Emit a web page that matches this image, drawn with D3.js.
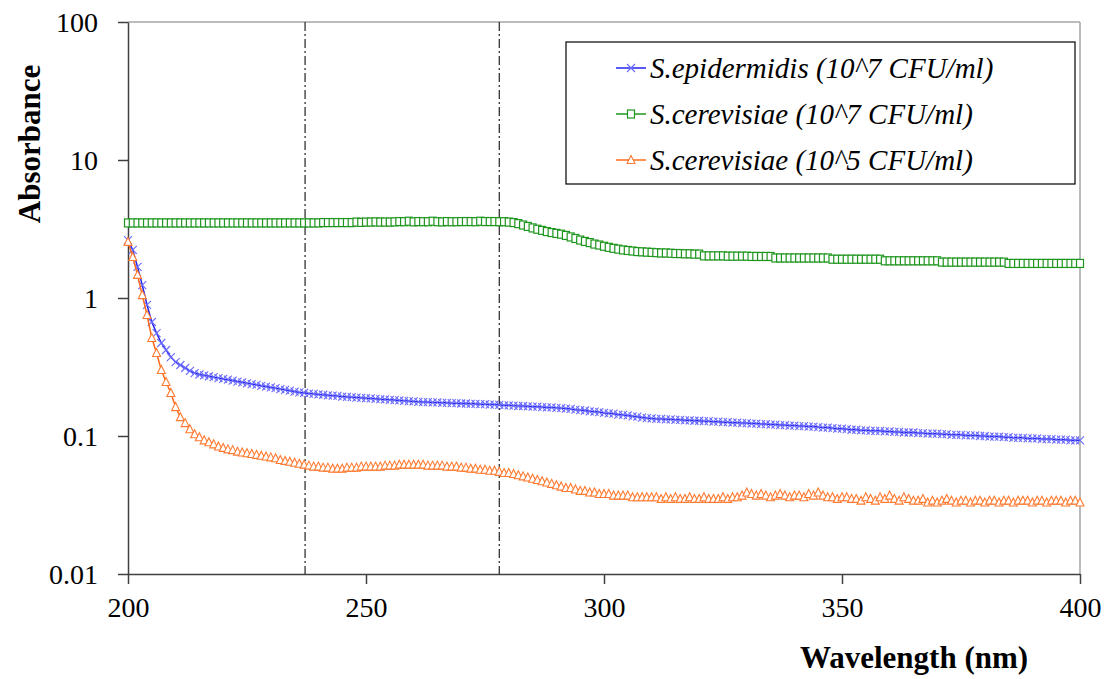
<!DOCTYPE html>
<html>
<head>
<meta charset="utf-8">
<script src="https://cdn.jsdelivr.net/npm/d3@7"></script>
<style>
  body { margin: 0; background: #fff; }
  svg text { font-family: "Liberation Serif", Tinos, "Times New Roman", Times, "DejaVu Serif", serif !important; }
</style>
</head>
<body>
<div id="chart"></div>
<script>
// wavelength runs 200..400 nm in 1 nm steps
const wavelengths = d3.range(200, 401)

const epidermidis7 = [
  2.63, 2.23, 1.68, 1.24, 0.89, 0.67, 0.557, 0.472, 0.42, 0.373, 0.343, 0.327, 0.311, 0.296, 0.286, 0.279,
  0.275, 0.271, 0.267, 0.263, 0.259, 0.256, 0.252, 0.248, 0.245, 0.241, 0.238, 0.235, 0.231, 0.228, 0.225, 0.222, 0.219, 0.216, 0.213, 0.210, 0.207, 0.205,
  0.203, 0.202, 0.200, 0.199, 0.197, 0.196, 0.195, 0.193, 0.192, 0.191, 0.190, 0.189, 0.188,
  0.187, 0.186, 0.185, 0.184, 0.183, 0.182, 0.181, 0.180, 0.179, 0.178, 0.177, 0.176,
  0.176, 0.175, 0.175, 0.174, 0.174, 0.173, 0.173, 0.172, 0.172, 0.171, 0.171, 0.170, 0.170, 0.169, 0.169, 0.168,
  0.167, 0.167, 0.166, 0.165, 0.165, 0.164, 0.163, 0.163, 0.162, 0.161, 0.161, 0.160,
  0.159, 0.158, 0.157, 0.155, 0.154, 0.153, 0.151, 0.150, 0.149, 0.147,
  0.146, 0.145, 0.143, 0.142, 0.141, 0.139, 0.138, 0.136, 0.135, 0.134,
  0.133, 0.133, 0.132, 0.132, 0.131, 0.131, 0.130, 0.130, 0.129, 0.129, 0.128, 0.128, 0.127, 0.127, 0.126, 0.126, 0.125, 0.125, 0.124, 0.124,
  0.123, 0.123, 0.122, 0.122, 0.121, 0.121, 0.120, 0.120, 0.119, 0.119, 0.118, 0.118, 0.117, 0.117, 0.116, 0.115, 0.115, 0.114, 0.113, 0.113, 0.112, 0.111, 0.111, 0.110,
  0.110, 0.109, 0.109, 0.109, 0.108, 0.108, 0.107, 0.107, 0.106, 0.106, 0.106, 0.105, 0.105, 0.104, 0.104, 0.104, 0.103, 0.103, 0.102, 0.102, 0.102,
  0.101, 0.101, 0.101, 0.100, 0.100, 0.099, 0.099, 0.099, 0.098, 0.098, 0.097, 0.097, 0.097, 0.096, 0.096, 0.096, 0.095, 0.095, 0.095, 0.094, 0.094, 0.094, 0.093, 0.093, 0.093
]

const cerevisiae7 = [
  3.50, 3.50, 3.50, 3.50, 3.50, 3.50, 3.50, 3.50, 3.50, 3.50, 3.50, 3.50, 3.50, 3.50, 3.50, 3.50, 3.50, 3.50, 3.50, 3.50,
  3.50, 3.50, 3.50, 3.50, 3.50, 3.50, 3.50, 3.50, 3.50, 3.50, 3.50, 3.50, 3.50, 3.50, 3.50, 3.50, 3.50, 3.50, 3.50, 3.50, 3.50,
  3.52, 3.52, 3.52, 3.52, 3.52, 3.52, 3.52,
  3.55, 3.53, 3.55, 3.55, 3.56, 3.55, 3.55, 3.55,
  3.56, 3.58, 3.57, 3.60, 3.56, 3.58, 3.57, 3.57, 3.60, 3.57, 3.56, 3.58, 3.57, 3.57, 3.58,
  3.58, 3.58, 3.57, 3.60, 3.58, 3.58, 3.58, 3.57,
  3.57, 3.55, 3.52, 3.46, 3.38, 3.30, 3.22, 3.15, 3.09, 3.03, 2.98, 2.94, 2.90, 2.84, 2.77, 2.70,
  2.63, 2.57, 2.52, 2.46, 2.42, 2.37, 2.33, 2.29, 2.26, 2.23, 2.21, 2.19, 2.17, 2.16, 2.15, 2.14,
  2.13, 2.12, 2.12, 2.11, 2.10, 2.10, 2.09, 2.09, 2.08, 2.08,
  2.02, 2.02, 2.02, 2.02, 2.02, 2.01, 2.01, 2.01, 2.01, 2.01, 2.00, 2.00, 2.00, 2.00, 2.00,
  1.95, 1.95, 1.95, 1.95, 1.95, 1.95, 1.95, 1.95, 1.95, 1.95, 1.95, 1.95,
  1.91, 1.91, 1.91, 1.91, 1.91, 1.91, 1.91, 1.91, 1.91, 1.91, 1.91,
  1.86, 1.86, 1.86, 1.86, 1.86, 1.86, 1.86, 1.86, 1.86, 1.86, 1.86, 1.86,
  1.82, 1.82, 1.82, 1.82, 1.82, 1.82, 1.82, 1.82, 1.82, 1.82, 1.82, 1.82, 1.82, 1.82,
  1.78, 1.78, 1.78, 1.78, 1.78, 1.78, 1.78, 1.78, 1.78, 1.78, 1.78, 1.78, 1.78, 1.78, 1.78, 1.78
]

const cerevisiae5 = [
  2.55, 1.98, 1.47, 1.05, 0.753, 0.513, 0.399, 0.301, 0.246, 0.205, 0.162, 0.137, 0.124, 0.112, 0.103, 0.098,
  0.093, 0.090, 0.087, 0.084, 0.082, 0.080, 0.079, 0.077, 0.076, 0.075, 0.074, 0.073, 0.072, 0.071, 0.070, 0.069, 0.067, 0.066, 0.065, 0.064, 0.063, 0.062,
  0.061, 0.060, 0.060, 0.059, 0.059, 0.058, 0.058, 0.058, 0.059, 0.059, 0.059, 0.060, 0.060, 0.060, 0.060, 0.060, 0.061, 0.061, 0.061, 0.062, 0.062, 0.062, 0.062, 0.062, 0.062,
  0.061, 0.061, 0.061, 0.061, 0.060, 0.060, 0.060, 0.059, 0.059, 0.058, 0.058, 0.057, 0.057, 0.056, 0.056, 0.055,
  0.054, 0.054, 0.053, 0.052, 0.051, 0.050, 0.049, 0.048, 0.047, 0.046, 0.045, 0.044, 0.043, 0.042, 0.042, 0.041, 0.040, 0.040, 0.039, 0.039, 0.038, 0.038, 0.038, 0.037, 0.037,
  0.037, 0.037, 0.036, 0.036, 0.036, 0.036, 0.036, 0.036, 0.035, 0.036, 0.035, 0.036, 0.035, 0.035, 0.036, 0.035, 0.035, 0.036, 0.035, 0.035, 0.035, 0.036, 0.035, 0.036, 0.036, 0.037,
  0.039, 0.038, 0.037, 0.038, 0.037, 0.036, 0.037, 0.038, 0.037, 0.036, 0.037, 0.037, 0.036, 0.038, 0.037, 0.039, 0.037, 0.036, 0.036, 0.035, 0.036,
  0.036, 0.035, 0.035, 0.034, 0.036, 0.035, 0.034, 0.036, 0.035, 0.037, 0.035, 0.034, 0.036, 0.035, 0.034, 0.034, 0.035, 0.033, 0.034, 0.033, 0.034, 0.035, 0.034, 0.033, 0.034,
  0.034, 0.033, 0.034, 0.034, 0.033, 0.034, 0.034, 0.033, 0.034, 0.034, 0.033, 0.034, 0.034, 0.034, 0.033, 0.034, 0.034, 0.033, 0.034, 0.034, 0.034, 0.033, 0.034, 0.034, 0.033
]

const seriesNames = [
  "S.epidermidis (10^7 CFU/ml)",
  "S.cerevisiae (10^7 CFU/ml)",
  "S.cerevisiae (10^5 CFU/ml)"
]
const xTicks = [200, 250, 300, 350, 400]
const yTicks = [0.01, 0.1, 1, 10, 100]
const markerLines = [237.2, 278]

const svgWidth = 1113
const svgHeight = 679
const margin = { top: 22, right: 33, bottom: 105, left: 128 }
const width = svgWidth - margin.left - margin.right
const height = svgHeight - margin.top - margin.bottom

const svg = d3.select("#chart").append("svg")
  .attr("width", svgWidth)
  .attr("height", svgHeight)

const g = svg.append("g").attr("transform", `translate(${margin.left},${margin.top})`)

const x = d3.scaleLinear().domain([200, 400]).range([0, width])
const y = d3.scaleLog().domain([0.01, 100]).range([height, 0])

// plot border (top & right, light grey)
g.append("line").attr("x1", 0).attr("x2", width).attr("y1", 0).attr("y2", 0)
  .attr("stroke", "#a6a6a6").attr("stroke-width", 1.5)
g.append("line").attr("x1", width).attr("x2", width).attr("y1", 0).attr("y2", height)
  .attr("stroke", "#a6a6a6").attr("stroke-width", 1.5)

// axes
const xAxis = g.append("g").attr("transform", `translate(0,${height})`)
  .call(d3.axisBottom(x).tickValues(xTicks).tickSize(10).tickPadding(8).tickSizeOuter(0))
const yAxis = g.append("g")
  .call(d3.axisLeft(y).tickValues(yTicks).tickSize(10).tickPadding(20).tickSizeOuter(0)
    .tickFormat(d => d >= 1 ? d3.format("d")(d) : String(d)))

;[xAxis, yAxis].forEach(a => {
  a.attr("font-family", null)
  a.select(".domain").attr("stroke", "#404040").attr("stroke-width", 1.5)
  a.selectAll(".tick line").attr("stroke", "#404040").attr("stroke-width", 1.5)
  a.selectAll("text").attr("font-size", 28).attr("fill", "#000")
})
xAxis.selectAll("text").attr("dy", "0.9em")
yAxis.selectAll("text").attr("dy", "0.35em")

// dash-dot reference lines
g.selectAll(".refline").data(markerLines).enter().append("line")
  .attr("x1", d => x(d)).attr("x2", d => x(d))
  .attr("y1", 0).attr("y2", height)
  .attr("stroke", "#222").attr("stroke-width", 1.2)
  .attr("stroke-dasharray", "9,3,2,3")

const series = [
  { name: seriesNames[0], values: epidermidis7, color: "#2323f0", mcolor: "#6a6aff", shape: "x" },
  { name: seriesNames[1], values: cerevisiae7, color: "#1e961e", mcolor: "#1e961e", shape: "square" },
  { name: seriesNames[2], values: cerevisiae5, color: "#ff6a1a", mcolor: "#ff7a30", shape: "triangle" }
]

const line = d3.line().x((d, i) => x(wavelengths[i])).y(d => y(d))

function drawMarker(sel, shape, color) {
  if (shape === "x") {
    sel.append("path").attr("d", "M-4,-4L4,4M-4,4L4,-4")
      .attr("stroke", color).attr("stroke-width", 1.1).attr("fill", "none")
  } else if (shape === "square") {
    sel.append("rect").attr("x", -3.5).attr("y", -4).attr("width", 7).attr("height", 8)
      .attr("stroke", color).attr("stroke-width", 1.2).attr("fill", "#fff")
  } else {
    sel.append("path").attr("d", "M0,-4.5L4,3.5L-4,3.5Z")
      .attr("stroke", color).attr("stroke-width", 1.1).attr("fill", "#fff")
  }
}

series.forEach(s => {
  g.append("path").datum(s.values)
    .attr("d", line)
    .attr("fill", "none")
    .attr("stroke", s.color)
    .attr("stroke-width", 1.5)
  g.append("g").selectAll("g").data(s.values).enter().append("g")
    .attr("transform", (d, i) => `translate(${x(wavelengths[i])},${y(d)})`)
    .each(function() { drawMarker(d3.select(this), s.shape, s.mcolor) })
})

// legend
const legend = svg.append("g").attr("transform", "translate(566,42)")
legend.append("rect").attr("width", 509).attr("height", 142)
  .attr("fill", "#fff").attr("stroke", "#000").attr("stroke-width", 1.2)
series.forEach((s, i) => {
  const row = legend.append("g").attr("transform", `translate(0,${26 + i * 46})`)
  row.append("line").attr("x1", 50).attr("x2", 80).attr("y1", 0).attr("y2", 0)
    .attr("stroke", s.color).attr("stroke-width", 1.5)
  const m = row.append("g").attr("transform", "translate(65,0)")
  drawMarker(m, s.shape, s.mcolor)
  row.append("text").attr("x", 84).attr("y", 10)
    .attr("font-size", 29).attr("font-style", "italic").text(s.name)
})

// axis titles
svg.append("text")
  .attr("transform", "translate(40,144) rotate(-90)")
  .attr("text-anchor", "middle")
  .attr("font-size", 31).attr("font-weight", "bold")
  .text("Absorbance")
svg.append("text")
  .attr("x", 914).attr("y", 668)
  .attr("text-anchor", "middle")
  .attr("font-size", 31).attr("font-weight", "bold")
  .text("Wavelength (nm)")
</script>
</body>
</html>
